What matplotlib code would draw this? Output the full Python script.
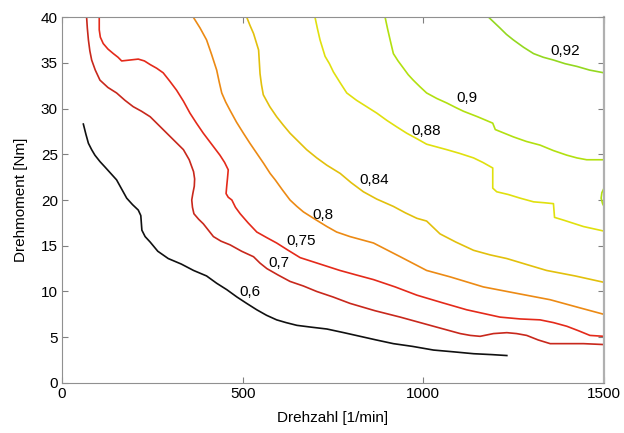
import matplotlib
matplotlib.use("Agg")
import matplotlib.pyplot as plt

plt.rcParams['font.family'] = ['Liberation Sans', 'DejaVu Sans']

# efficiency contour lines: speed [1/min] and torque [Nm] pairs
levels = ["0,6", "0,7", "0,75", "0,8", "0,84", "0,88", "0,9", "0,92"]

speed_06 = [59, 66, 73, 82, 91, 105, 119, 135, 151, 165, 179, 195, 211, 218,
            221, 230, 244, 265, 294, 330, 364, 400, 428, 456, 484, 511, 539,
            566, 594, 620, 650, 690, 733, 780, 825, 870, 917, 970, 1028,
            1085, 1139, 1190, 1231]
torque_06 = [28.3, 27.2, 26.2, 25.5, 24.9, 24.2, 23.6, 22.9, 22.2, 21.2, 20.2,
             19.5, 18.9, 18.3, 16.7, 16.0, 15.4, 14.4, 13.6, 13.0, 12.3, 11.7,
             10.9, 10.2, 9.4, 8.7, 8.0, 7.4, 6.9, 6.6, 6.3, 6.1, 5.9, 5.5, 5.1,
             4.7, 4.3, 4.0, 3.6, 3.4, 3.2, 3.1, 3.0]

speed_07 = [68, 70, 73, 77, 82, 92, 105, 127, 151, 174, 197, 220, 244, 267,
            290, 313, 336, 352, 364, 367, 366, 362, 359, 361, 365, 378, 391,
            405, 419, 440, 465, 497, 530, 548, 567, 598, 631, 668, 705, 750,
            797, 866, 936, 982, 1028, 1065, 1102, 1130, 1157, 1194, 1231,
            1258, 1286, 1318, 1351, 1400, 1443, 1500]
torque_07 = [40, 38.8, 37.5, 36.3, 35.3, 34.2, 33.1, 32.3, 31.7, 30.9, 30.2,
             29.7, 29.1, 28.2, 27.3, 26.4, 25.5, 24.4, 23.1, 22.3, 21.5, 20.7,
             20.0, 19.2, 18.5, 17.9, 17.4, 16.7, 16.0, 15.5, 15.1, 14.4, 13.8,
             13.1, 12.5, 11.8, 11.1, 10.6, 10.0, 9.4, 8.7, 7.9, 7.2, 6.7, 6.2,
             5.8, 5.4, 5.2, 5.1, 5.4, 5.5, 5.4, 5.2, 4.7, 4.3, 4.3, 4.3, 4.2]

speed_075 = [103, 103, 106, 114, 127, 142, 155, 165, 188, 211, 228, 244, 262,
             280, 298, 317, 336, 354, 372, 391, 414, 437, 450, 460, 458, 456,
             454, 460, 470, 480, 493, 515, 539, 566, 594, 626, 659, 714, 769,
             815, 862, 922, 982, 1050, 1120, 1166, 1212, 1268, 1323, 1360,
             1397, 1430, 1461, 1500]
torque_075 = [40, 38.6, 37.8, 37.1, 36.5, 36.0, 35.6, 35.2, 35.3, 35.4, 35.2,
              34.8, 34.4, 33.9, 33.0, 32.0, 30.8, 29.5, 28.4, 27.3, 26.1, 24.9,
              24.1, 23.3, 22.4, 21.6, 20.7, 20.3, 20.0, 19.2, 18.5, 17.5, 16.5,
              15.9, 15.3, 14.5, 13.7, 13.0, 12.3, 11.8, 11.3, 10.5, 9.6, 8.8,
              8.0, 7.6, 7.2, 7.0, 6.9, 6.6, 6.2, 5.7, 5.2, 5.1]

speed_08 = [363, 382, 400, 414, 428, 435, 442, 453, 465, 483, 502, 520, 539,
            558, 576, 590, 610, 631, 650, 668, 696, 733, 760, 797, 862, 936,
            1009, 1074, 1166, 1258, 1351, 1425, 1500]
torque_08 = [40, 38.8, 37.5, 35.9, 34.2, 32.9, 31.7, 30.7, 29.8, 28.5, 27.3,
             26.2, 25.1, 24.0, 22.9, 22.2, 21.1, 20.0, 19.3, 18.7, 18.0, 17.1,
             16.5, 16.0, 15.3, 13.8, 12.3, 11.6, 10.5, 9.8, 9.1, 8.3, 7.5]

speed_084 = [511, 520, 530, 537, 544, 546, 548, 552, 557, 575, 594, 612, 631,
             654, 677, 705, 733, 770, 800, 834, 871, 917, 950, 982, 1009,
             1046, 1090, 1139, 1185, 1231, 1290, 1341, 1420, 1500]
torque_084 = [40, 39.1, 38.2, 37.3, 36.4, 35.1, 33.8, 32.6, 31.5, 30.2, 29.1,
              28.2, 27.3, 26.4, 25.5, 24.6, 23.8, 22.9, 21.9, 20.9, 20.1, 19.3,
              18.6, 18.0, 17.7, 16.3, 15.4, 14.5, 14.0, 13.6, 12.9, 12.3, 11.7,
              11.0]

speed_088 = [700, 707, 714, 721, 728, 740, 751, 770, 788, 815, 843, 871, 899,
             926, 954, 982, 1009, 1037, 1065, 1100, 1139, 1165, 1192, 1192,
             1203, 1235, 1268, 1305, 1335, 1360, 1363, 1388, 1443, 1500]
torque_088 = [40, 38.7, 37.5, 36.6, 35.7, 34.9, 34.0, 32.8, 31.7, 30.9, 30.2,
              29.5, 28.7, 28.0, 27.3, 26.7, 26.1, 25.8, 25.5, 25.1, 24.6, 24.1,
              23.5, 21.3, 20.9, 20.6, 20.2, 19.8, 19.7, 19.6, 18.1, 17.8, 17.1,
              16.6]

speed_09 = [894, 901, 908, 917, 930, 945, 958, 972, 990, 1009, 1037, 1065,
            1090, 1111, 1150, 1192, 1199, 1224, 1249, 1285, 1323, 1360, 1397,
            1425, 1452, 1500]
torque_09 = [40, 38.7, 37.5, 36.0, 35.2, 34.4, 33.7, 33.1, 32.4, 31.7, 31.1,
             30.6, 30.1, 29.7, 29.1, 28.4, 27.7, 27.3, 26.9, 26.4, 26.0, 25.4,
             24.9, 24.6, 24.4, 24.4]

speed_09b = [1500, 1494, 1492, 1496, 1500]
torque_09b = [21.3, 20.8, 20.2, 19.6, 19.3]

speed_092 = [1180, 1196, 1212, 1230, 1249, 1277, 1305, 1332, 1360, 1392, 1425,
             1460, 1500]
torque_092 = [40, 39.4, 38.8, 38.1, 37.5, 36.7, 36.0, 35.6, 35.3, 34.9, 34.6,
              34.2, 33.9]

# where the level labels sit
label_x = [520, 601, 661, 722, 864, 1008, 1121, 1392]
label_y = [9.9, 13.1, 15.5, 18.4, 22.2, 27.5, 31.1, 36.3]

colors = ["#101010", "#c8281c", "#e42a1a", "#ec8a14", "#e2c00c", "#e0e00e",
          "#b2e010", "#94d820"]

lines = [(speed_06, torque_06), (speed_07, torque_07), (speed_075, torque_075),
         (speed_08, torque_08), (speed_084, torque_084),
         (speed_088, torque_088), (speed_09, torque_09),
         (speed_092, torque_092)]

fig = plt.figure(figsize=(6.24, 4.33), dpi=100)
ax = fig.add_axes([0.0994, 0.1155, 0.8686, 0.8452])

for (sx, ty), c in zip(lines, colors):
    ax.plot(sx, ty, color=c, lw=1.2)
ax.plot(speed_09b, torque_09b, color=colors[6], lw=1.2)

for lab, lx, ly in zip(levels, label_x, label_y):
    ax.text(lx, ly, lab, fontsize=11, ha='center', va='center')

ax.set_xlim(0, 1500)
ax.set_ylim(0, 40)
ax.set_xticks([0, 500, 1000, 1500])
ax.set_yticks(range(0, 41, 5))
ax.tick_params(direction='in', top=True, right=True, labelsize=11,
               color='#808080', length=4, pad=3)
for side in ax.spines:
    ax.spines[side].set_color('#909090')
ax.spines['right'].set_linewidth(1.6)
ax.spines['right'].set_color('#b0b0b0')

ax.set_xlabel("Drehzahl [1/min]", fontsize=11, labelpad=7)
ax.set_ylabel("Drehmoment [Nm]", fontsize=11, labelpad=9)

fig.savefig("out.png", dpi=100)
